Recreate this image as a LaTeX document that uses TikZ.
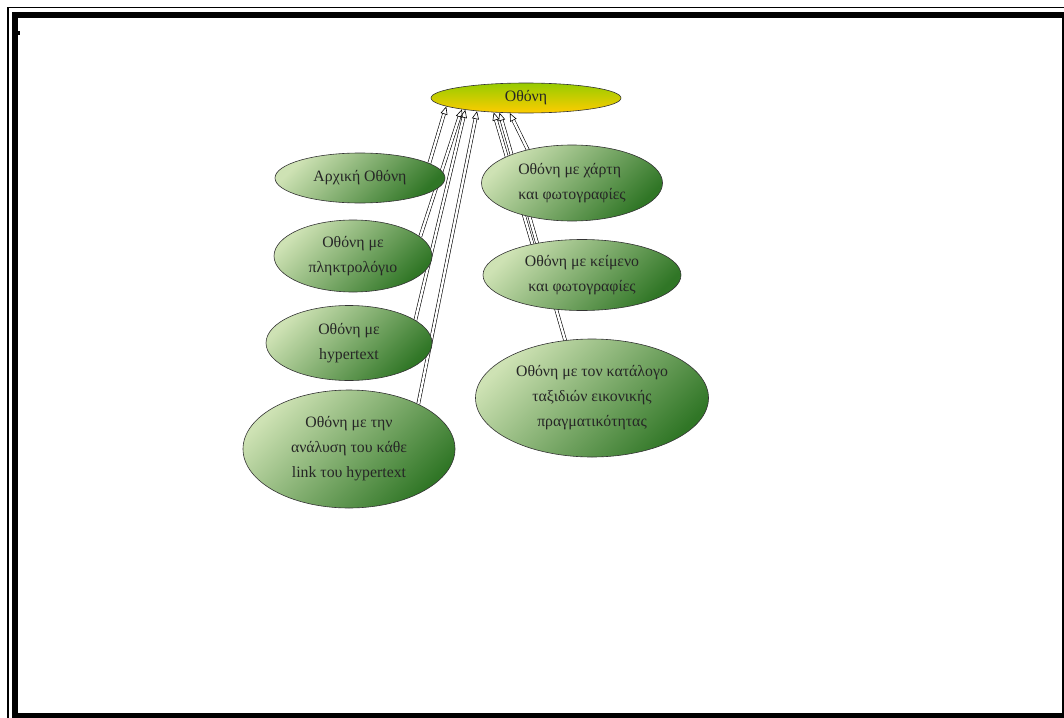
\documentclass[tikz,border=0pt]{standalone}
\usepackage{fontspec}
\setmainfont{Liberation Serif}
\usetikzlibrary{shapes.geometric,arrows.meta,backgrounds}
\definecolor{leafhi}{RGB}{206,226,180}
\definecolor{leaflo}{RGB}{48,118,38}
\definecolor{rootgreen}{RGB}{150,204,0}
\definecolor{rootyellow}{RGB}{255,204,0}
\tikzset{
  screen/.style={ellipse, draw=black!80, line width=0.6pt, inner sep=0pt, align=center,
    font=\fontsize{15.8}{25}\selectfont, text=black!85, top color=leafhi, bottom color=leaflo, shading angle=45},
  rootscreen/.style={screen, top color=rootgreen, bottom color=rootyellow},
  link/.style={draw=black, line width=0.6pt, double=white, double distance=2.4pt,
    -{Triangle[open,length=8pt,width=7pt]}}
}

\begin{document}
\begin{tikzpicture}[x=1pt,y=-1pt]
	\clip (0,0) rectangle (1064,717);
	% frame
	\draw[line width=1.5pt] (7.75,7.75) rectangle (1080,730);
	\draw[line width=6pt] (15,15) rectangle (1065,716);
	\fill (18,31) rectangle (20,35);

	\node[rootscreen, minimum width=190pt, minimum height=30pt] (scr) at (526,98) {Οθόνη};
	\node[screen, minimum width=170pt, minimum height=50pt] (start) at (360,178) {Αρχική Οθόνη};
	\node[screen, minimum width=158pt, minimum height=72pt] (keyb) at (353,256) {Οθόνη με\\πληκτρολόγιο};
	\node[screen, minimum width=166pt, minimum height=75pt] (hyper) at (349,343) {Οθόνη με\\hypertext};
	\node[screen, minimum width=212pt, minimum height=118pt] (links) at (349,449) {Οθόνη με την\\ανάλυση του κάθε\\link του hypertext};
	\node[screen, align=left, minimum width=181pt, minimum height=76pt] (map) at (572,183) {Οθόνη με χάρτη\\και φωτογραφίες};
	\node[screen, minimum width=198pt, minimum height=71pt] (text) at (582,275) {Οθόνη με κείμενο\\και φωτογραφίες};
	\node[screen, minimum width=233pt, minimum height=118pt] (vr) at (592,398) {Οθόνη με τον κατάλογο\\ταξιδιών εικονικής\\πραγματικότητας};

	\begin{scope}[on background layer]
		\foreach \from/\to in {start.12/scr.186, keyb.16/scr.190, hyper.19/scr.191, links.33/scr.195,
			map.143/scr.223, text.148/scr.204, vr.115/scr.209}
			\draw[link] (\from) -- (\to);
	\end{scope}
\end{tikzpicture}
\end{document}
